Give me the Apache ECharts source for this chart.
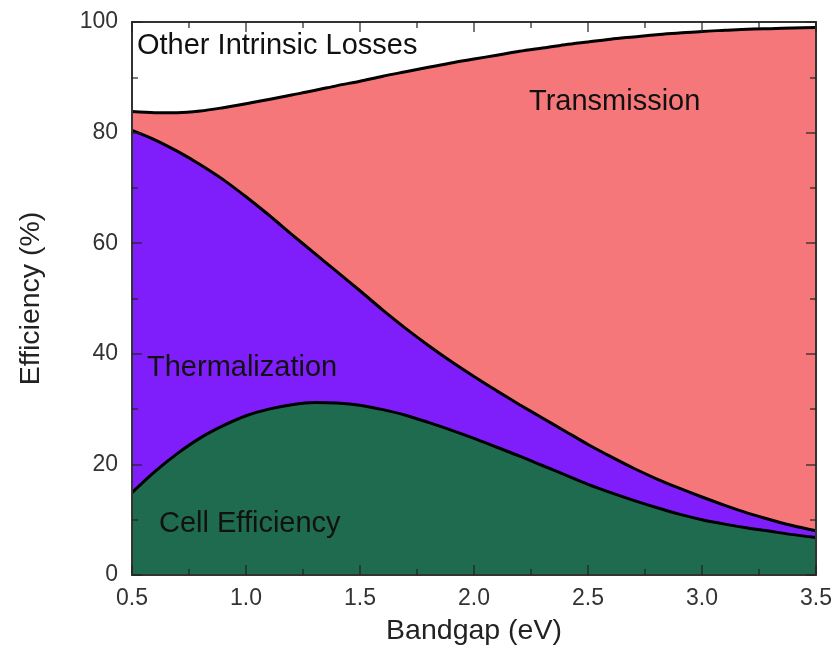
<!DOCTYPE html>
<html>
<head>
<meta charset="utf-8">
<script src="https://cdn.jsdelivr.net/npm/echarts@6/dist/echarts.min.js"></script>
<style>
html,body{margin:0;padding:0;background:#fff;}
#chart{width:835px;height:658px;}
</style>
</head>
<body>
<div id="chart"></div>
<script>
// Bandgap values (eV)
var bandgap = [0.5, 0.6, 0.7, 0.8, 0.9, 1.0, 1.1, 1.2, 1.3, 1.4, 1.5, 1.6, 1.7, 1.8, 1.9, 2.0,
               2.1, 2.2, 2.3, 2.4, 2.5, 2.6, 2.7, 2.8, 2.9, 3.0, 3.1, 3.2, 3.3, 3.4, 3.5];
// Upper boundary of the cell efficiency region (%)
var cellEfficiency = [14.9, 18.7, 22.0, 24.8, 27.0, 28.8, 30.0, 30.8, 31.2, 31.1, 30.7, 29.9, 28.9, 27.6, 26.2, 24.7,
                      23.1, 21.5, 19.8, 18.1, 16.4, 14.9, 13.5, 12.2, 11.0, 10.0, 9.2, 8.5, 7.9, 7.3, 6.8];
// Upper boundary of the thermalization region (%)
var thermalizationTop = [80.4, 78.7, 76.6, 74.2, 71.5, 68.4, 65.1, 61.6, 58.2, 54.8, 51.4, 47.9, 44.6, 41.5, 38.6, 35.9,
                         33.3, 30.8, 28.4, 26.0, 23.6, 21.4, 19.3, 17.4, 15.7, 14.1, 12.6, 11.2, 10.0, 8.9, 8.0];
// Upper boundary of the transmission region (%)
var transmissionTop = [83.8, 83.6, 83.6, 83.9, 84.5, 85.2, 86.0, 86.8, 87.6, 88.5, 89.3, 90.2, 91.0, 91.8, 92.6, 93.3,
                       94.0, 94.7, 95.3, 95.9, 96.4, 96.9, 97.3, 97.7, 98.0, 98.3, 98.5, 98.7, 98.8, 98.9, 99.0];
// Tick values
var xTicks = [0.5, 1.0, 1.5, 2.0, 2.5, 3.0, 3.5];
var yTicks = [0, 20, 40, 60, 80, 100];

function pairs(vals) {
  return bandgap.map(function (x, i) { return [x, vals[i]]; });
}

var chart = echarts.init(document.getElementById('chart'), null, {renderer: 'canvas'});
var FONT = '"Liberation Sans", Arial, sans-serif';
var tickStyle = {color: '#222', width: 1.5, opacity: 0.8};

function areaSeries(name, vals, color) {
  return {
    name: name,
    type: 'line',
    data: pairs(vals),
    smooth: 0.3,
    symbol: 'none',
    lineStyle: {color: '#000', width: 3},
    areaStyle: {color: color, opacity: 1, origin: 'start'},
    silent: true
  };
}

function axisCommon(min, max, interval) {
  return {
    type: 'value',
    min: min,
    max: max,
    interval: interval,
    z: 10,
    axisLine: {show: true, onZero: false, lineStyle: {color: '#333', width: 2}},
    axisTick: {show: true, inside: true, length: 10, lineStyle: tickStyle},
    minorTick: {show: true, splitNumber: 2, length: 6, lineStyle: tickStyle},
    splitLine: {show: false}
  };
}

var option = {
  animation: false,
  backgroundColor: '#fff',
  grid: {left: 132, right: 18, top: 22, bottom: 83, containLabel: false},
  xAxis: [
    Object.assign(axisCommon(xTicks[0], xTicks[xTicks.length - 1], 0.5), {
      position: 'bottom',
      name: 'Bandgap (eV)',
      nameLocation: 'middle',
      nameGap: 42,
      nameTextStyle: {fontFamily: FONT, fontSize: 28.5, color: '#222'},
      axisLabel: {show: true, margin: 12, fontFamily: FONT, fontSize: 23, color: '#333',
        formatter: function (v) { return v.toFixed(1); }}
    }),
    Object.assign(axisCommon(xTicks[0], xTicks[xTicks.length - 1], 0.5), {
      position: 'top', axisLabel: {show: false}
    })
  ],
  yAxis: [
    Object.assign(axisCommon(yTicks[0], yTicks[yTicks.length - 1], 20), {
      position: 'left',
      name: 'Efficiency (%)',
      nameLocation: 'middle',
      nameGap: 86,
      nameTextStyle: {fontFamily: FONT, fontSize: 28.5, color: '#222'},
      axisLabel: {show: true, margin: 14, fontFamily: FONT, fontSize: 23, color: '#333'}
    }),
    Object.assign(axisCommon(yTicks[0], yTicks[yTicks.length - 1], 20), {
      position: 'right', axisLabel: {show: false}
    })
  ],
  series: [
    areaSeries('Transmission', transmissionTop, '#F67779'),
    areaSeries('Thermalization', thermalizationTop, '#7F1EFB'),
    areaSeries('Cell Efficiency', cellEfficiency, '#1E6B4F')
  ],
  graphic: [
    {type: 'text', left: 137, top: 31, z: 100,
      style: {text: 'Other Intrinsic Losses', font: '29px ' + FONT, fill: '#111'}},
    {type: 'text', left: 529, top: 87, z: 100,
      style: {text: 'Transmission', font: '29px ' + FONT, fill: '#111'}},
    {type: 'text', left: 147, top: 353, z: 100,
      style: {text: 'Thermalization', font: '29px ' + FONT, fill: '#111'}},
    {type: 'text', left: 159, top: 509, z: 100,
      style: {text: 'Cell Efficiency', font: '29px ' + FONT, fill: '#111'}}
  ]
};
chart.setOption(option);
</script>
</body>
</html>
